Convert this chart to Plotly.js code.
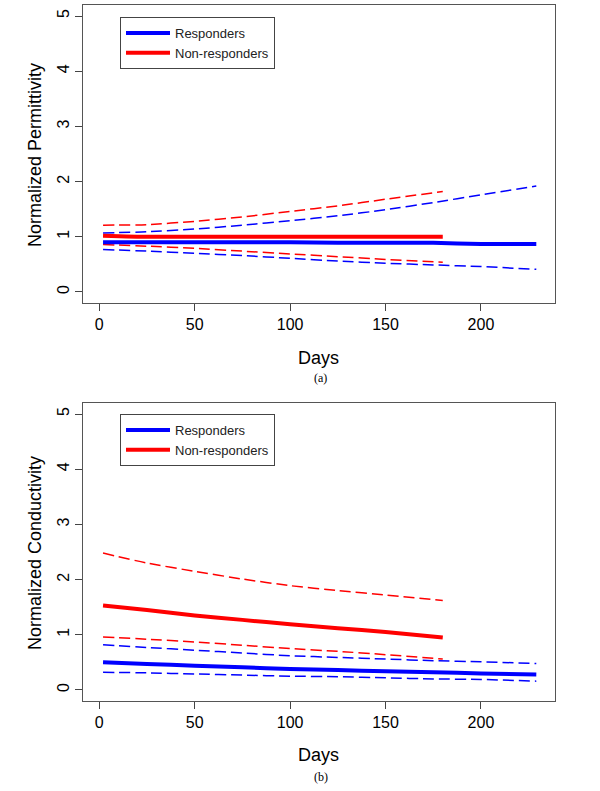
<!DOCTYPE html>
<html>
<head>
<meta charset="utf-8">
<script src="https://cdn.plot.ly/plotly-3.0.1.min.js"></script>
<style>
  body { margin: 0; background: #fff; }
  #chart { width: 600px; height: 791px; }
</style>
</head>
<body>
<div id="chart"></div>
<script>
// days sampled along the fitted curves
const daysResp = [2, 25, 50, 75, 100, 125, 150, 175, 200, 229];
const daysNon = [2, 25, 50, 75, 100, 125, 150, 180];

// (a) normalized permittivity
const permResp = [0.90, 0.90, 0.90, 0.90, 0.90, 0.89, 0.89, 0.89, 0.87, 0.87];
const permRespHi = [1.07, 1.09, 1.14, 1.21, 1.29, 1.38, 1.49, 1.62, 1.76, 1.92];
const permRespLo = [0.77, 0.74, 0.70, 0.66, 0.61, 0.56, 0.52, 0.49, 0.46, 0.41];
const permNon = [1.02, 1.00, 1.00, 1.00, 1.00, 1.00, 1.00, 1.00];
const permNonHi = [1.21, 1.22, 1.28, 1.36, 1.46, 1.56, 1.68, 1.82];
const permNonLo = [0.86, 0.83, 0.79, 0.74, 0.69, 0.64, 0.59, 0.54];

// (b) normalized conductivity
const condResp = [0.50, 0.47, 0.44, 0.41, 0.38, 0.36, 0.34, 0.32, 0.30, 0.28];
const condRespHi = [0.82, 0.77, 0.72, 0.67, 0.62, 0.59, 0.56, 0.53, 0.51, 0.48];
const condRespLo = [0.32, 0.31, 0.29, 0.27, 0.25, 0.24, 0.22, 0.20, 0.19, 0.16];
const condNon = [1.53, 1.45, 1.35, 1.27, 1.19, 1.12, 1.05, 0.95];
const condNonHi = [2.48, 2.30, 2.15, 2.01, 1.89, 1.80, 1.72, 1.62];
const condNonLo = [0.96, 0.92, 0.87, 0.81, 0.75, 0.70, 0.64, 0.56];

const BLUE = "#0000ff";
const RED = "#ff0000";
const FONT = "Liberation Sans, Arial, sans-serif";

function solid(x, y, color, name, xa, ya, legend) {
  return {
    x, y, name, mode: "lines", xaxis: xa, yaxis: ya, legend,
    line: { color, width: 4, shape: "spline", smoothing: 0.5 },
    hoverinfo: "skip",
  };
}
function band(x, y, color, xa, ya) {
  return {
    x, y, mode: "lines", xaxis: xa, yaxis: ya, showlegend: false,
    line: { color, width: 1.5, dash: "11px,5px", shape: "spline", smoothing: 0.6 },
    hoverinfo: "skip",
  };
}

const traces = [
  band(daysNon, permNonHi, RED, "x", "y"),
  band(daysNon, permNonLo, RED, "x", "y"),
  band(daysResp, permRespHi, BLUE, "x", "y"),
  band(daysResp, permRespLo, BLUE, "x", "y"),
  solid(daysResp, permResp, BLUE, "Responders", "x", "y", "legend"),
  solid(daysNon, permNon, RED, "Non-responders", "x", "y", "legend"),

  band(daysNon, condNonHi, RED, "x2", "y2"),
  band(daysNon, condNonLo, RED, "x2", "y2"),
  band(daysResp, condRespHi, BLUE, "x2", "y2"),
  band(daysResp, condRespLo, BLUE, "x2", "y2"),
  solid(daysResp, condResp, BLUE, "Responders", "x2", "y2", "legend2"),
  solid(daysNon, condNon, RED, "Non-responders", "x2", "y2", "legend2"),
];

const xAxis = (anchor) => ({
  anchor, domain: [83 / 600, 555 / 600], range: [-8.5, 238.8],
  tickvals: [0, 50, 100, 150, 200], ticks: "outside", ticklen: 7, tickcolor: "#444",
  showline: true, mirror: true, linecolor: "#555", linewidth: 1,
  showgrid: false, zeroline: false,
  tickfont: { family: FONT, size: 16, color: "#000" },
});
const yAxis = (anchor, top, bottom) => ({
  anchor, domain: [1 - bottom / 791, 1 - top / 791], range: [-0.2, 5.2],
  tickvals: [0, 1, 2, 3, 4, 5], ticks: "outside", ticklen: 7, tickcolor: "#444",
  tickangle: -90,
  showline: true, mirror: true, linecolor: "#555", linewidth: 1,
  showgrid: false, zeroline: false,
  tickfont: { family: FONT, size: 16, color: "#000" },
});

const legendBox = (top) => ({
  x: 120 / 600, y: 1 - top / 791, xanchor: "left", yanchor: "top",
  bordercolor: "#444", borderwidth: 1, bgcolor: "#fff",
  font: { family: FONT, size: 13, color: "#222" },
  itemwidth: 44, tracegroupgap: 0,
});

const note = (text, x, y, size, family, angle) => ({
  text, x: x / 600, y: 1 - y / 791, xref: "paper", yref: "paper",
  showarrow: false, textangle: angle || 0,
  xanchor: "center", yanchor: "middle",
  font: { family: family || FONT, size, color: "#000" },
});

const layout = {
  width: 600, height: 791,
  margin: { l: 0, r: 0, t: 0, b: 0 },
  paper_bgcolor: "#fff", plot_bgcolor: "#fff",
  xaxis: xAxis("y"),
  yaxis: yAxis("x", 5, 303),
  xaxis2: xAxis("y2"),
  yaxis2: yAxis("x2", 403, 701),
  legend: legendBox(17),
  legend2: legendBox(414),
  annotations: [
    note("Normalized Permittivity", 35, 155, 18, FONT, -90),
    note("Days", 318, 358, 18),
    note("(a)", 320, 378, 12, "Liberation Serif, Times New Roman, serif"),
    note("Normalized Conductivity", 35, 553, 18, FONT, -90),
    note("Days", 318, 755, 18),
    note("(b)", 321, 777, 12, "Liberation Serif, Times New Roman, serif"),
  ],
};

Plotly.newPlot("chart", traces, layout, { staticPlot: true });
</script>
</body>
</html>
